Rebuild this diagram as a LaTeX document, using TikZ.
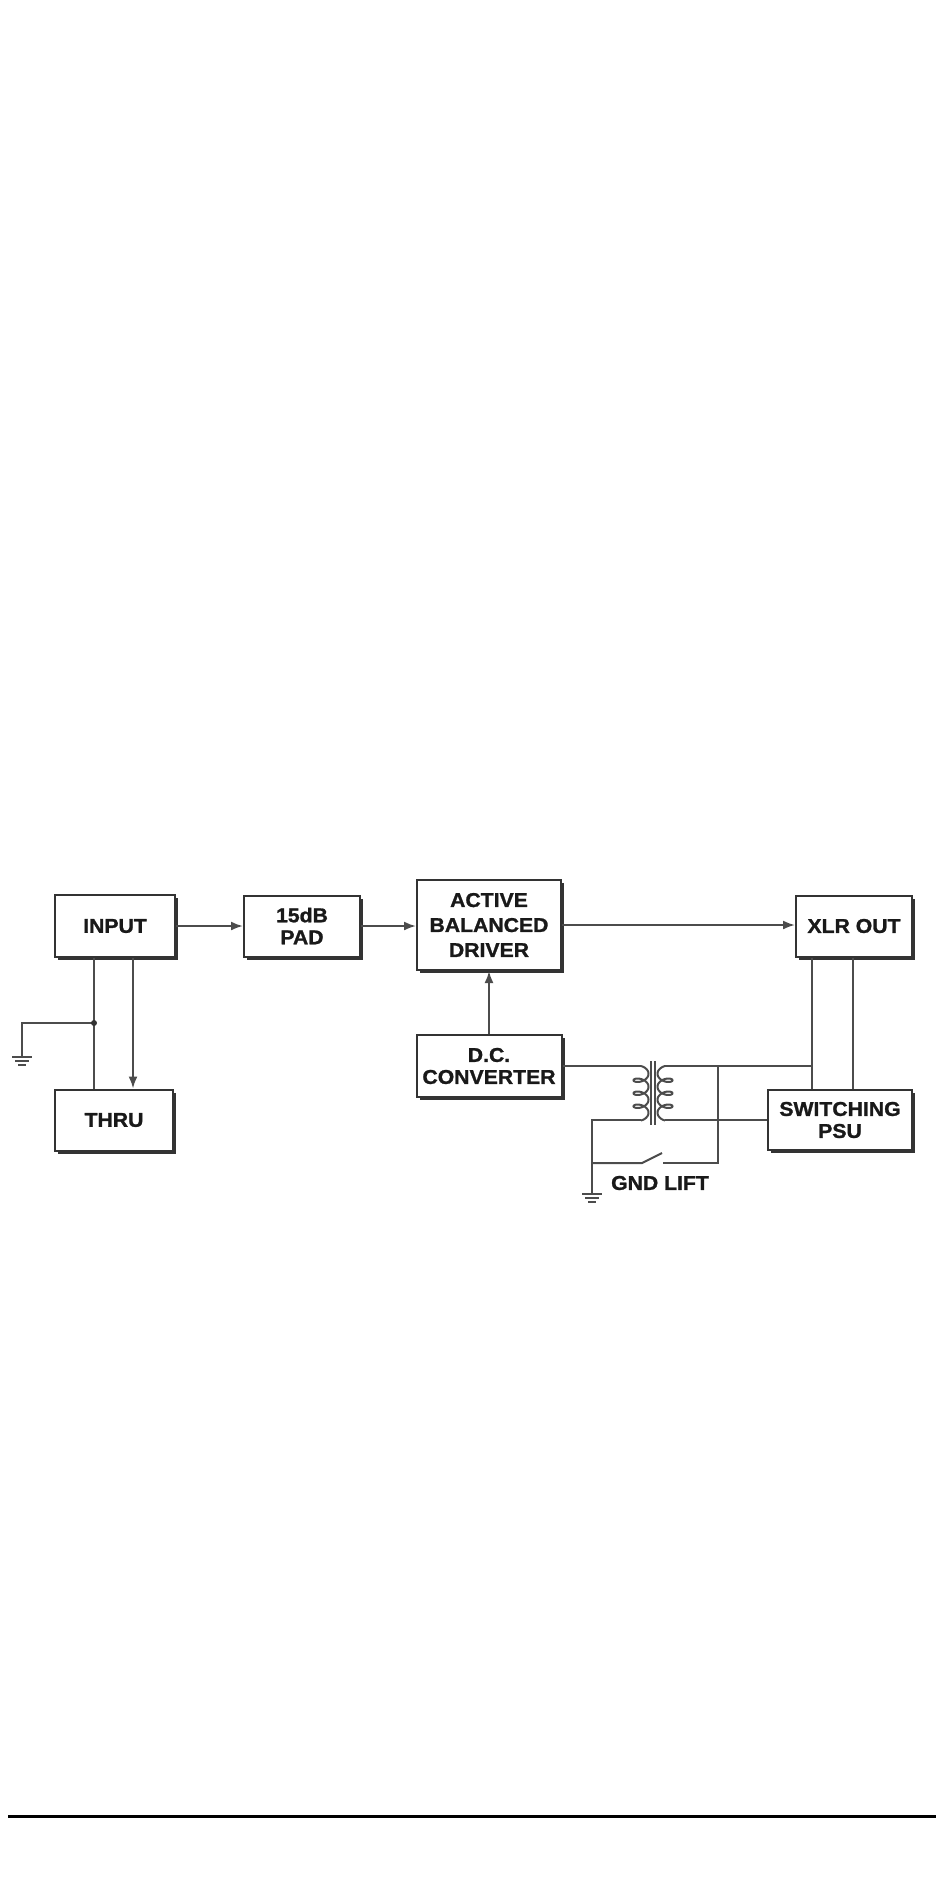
\documentclass[tikz,border=0pt]{standalone}
\usepackage{fontspec}
\setmainfont{Liberation Sans}
\newfontfamily\heavyfont{Liberation Sans}[BoldFeatures={FakeBold=1.2, FakeStretch=1.06}]
\usetikzlibrary{positioning,calc,arrows.meta,shadows}

\begin{document}
\begin{tikzpicture}[x=0.5pt,y=-0.5pt,
    blk/.style={draw=black!80, line width=1pt, fill=white, inner sep=0pt, align=center,
        font=\fontsize{10}{11}\heavyfont\bfseries, text=black!90,
        drop shadow={shadow xshift=1.5pt, shadow yshift=-1.5pt, fill=black!80, opacity=1}},
    wire/.style={draw=black!70, line width=1pt},
    sig/.style={wire, -{Latex[length=6pt,width=4.5pt]}},
    lbl/.style={font=\fontsize{10}{12}\heavyfont\bfseries, text=black!90}]
    \useasboundingbox (0,0) rectangle (950,1883);

    % Blocks
    \node[blk, minimum width=60pt, minimum height=31pt] (input) at (115,926) {INPUT};
    \node[blk, minimum width=58pt, minimum height=30.5pt] (pad) at (302,926) {15dB\\PAD};
    \node[blk, minimum width=72pt, minimum height=45pt,
        font=\fontsize{10}{12.5}\heavyfont\bfseries] (driver) at (489,925) {ACTIVE\\BALANCED\\DRIVER};
    \node[blk, minimum width=58pt, minimum height=30.5pt] (xlr) at (854,926) {XLR OUT};
    \node[blk, minimum width=72.5pt, minimum height=31pt] (dc) at (489,1066) {D.C.\\CONVERTER};
    \node[blk, minimum width=72pt, minimum height=30pt] (psu) at (840,1120) {SWITCHING\\PSU};
    \node[blk, minimum width=59pt, minimum height=30.5pt] (thru) at (114,1120) {THRU};

    % Signal path
    \draw[sig] (input.east) -- (pad.west);
    \draw[sig] (pad.east) -- (pad.east -| driver.west);
    \draw[sig] (driver.east) -- (driver.east -| xlr.west);
    \draw[sig] (dc.north) -- (dc.north |- driver.south);

    % Input to thru, ground
    \coordinate (jn) at (94,1023);
    \coordinate (tap) at (133,1000);
    \coordinate (g1) at (22,1057);
    \draw[wire] (input.south -| jn) -- (thru.north -| jn);
    \draw[sig] (input.south -| tap) -- (thru.north -| tap);
    \draw[wire] (jn) -| (g1);
    \fill[black!80] (jn) circle (3);

    % Transformer
    \coordinate (p1) at (641,1066);
    \coordinate (p2) at (641,1120);
    \coordinate (s1) at (665,1066);
    \coordinate (s2) at (665,1120);
    \draw[wire] plot[domain=0.5*pi:7.5*pi, samples=160, variable=\t]
        ({641-7.5*cos(\t r)}, {1067.25+13*\t/(2*pi)-4.5*sin(\t r)});
    \draw[wire] plot[domain=0.5*pi:7.5*pi, samples=160, variable=\t]
        ({665+7.5*cos(\t r)}, {1067.25+13*\t/(2*pi)-4.5*sin(\t r)});
    \draw[wire] (651,1061) -- (651,1125);
    \draw[wire] (655,1061) -- (655,1125);

    % Output side wiring
    \coordinate (la) at (812,1000);
    \coordinate (lb) at (853,1000);
    \coordinate (sw) at (718,1163);
    \coordinate (c1) at (663,1163);
    \coordinate (bt) at (662,1153);
    \coordinate (c2) at (642,1163);
    \coordinate (g2) at (592,1194);
    \draw[wire] (dc.east |- p1) -- (p1);
    \draw[wire] (xlr.south -| la) -- (psu.north -| la);
    \draw[wire] (xlr.south -| lb) -- (psu.north -| lb);
    \draw[wire] (s1) -- (s1 -| la);
    \draw[wire] (s1 -| sw) -- (sw) -- (c1);
    \draw[wire] (bt) -- (c2) -- (c2 -| g2);
    \draw[wire] (p2) -- (p2 -| g2) -- (g2);
    \draw[wire] (s2) -- (psu.west |- s2);
    \node[lbl] (lift) at (660,1183) {GND LIFT};

    \foreach \g in {g1,g2} {
        \draw[wire] ($(\g)+(-10,0)$) -- ($(\g)+(10,0)$);
        \draw[wire] ($(\g)+(-7,4)$) -- ($(\g)+(7,4)$);
        \draw[wire] ($(\g)+(-4,8)$) -- ($(\g)+(4,8)$);
    }

    % Bottom rule
    \coordinate (r1) at (8,1816);
    \coordinate (r2) at (936,1816);
    \draw[line width=1.5pt] (r1) -- (r2);
\end{tikzpicture}
\end{document}
